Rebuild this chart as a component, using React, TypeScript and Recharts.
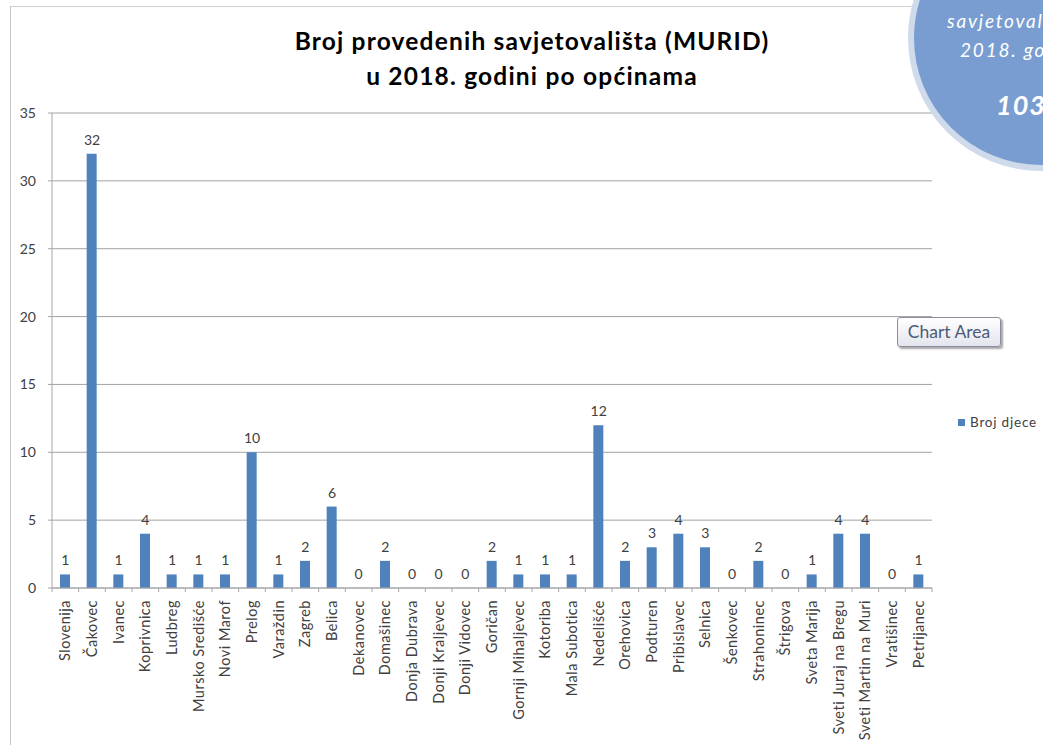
import React from "react";
import { ComposedChart, Bar, Line, XAxis, YAxis, CartesianGrid, LabelList } from "recharts";

const categories = [
  "Slovenija", "Čakovec", "Ivanec", "Koprivnica", "Ludbreg", "Mursko Središće", "Novi Marof",
  "Prelog", "Varaždin", "Zagreb", "Belica", "Dekanovec", "Domašinec", "Donja Dubrava",
  "Donji Kraljevec", "Donji Vidovec", "Goričan", "Gornji Mihaljevec", "Kotoriba", "Mala Subotica",
  "Nedelišće", "Orehovica", "Podturen", "Pribislavec", "Selnica", "Šenkovec", "Strahoninec",
  "Štrigova", "Sveta Marija", "Sveti Juraj na Bregu", "Sveti Martin na Muri", "Vratišinec", "Petrijanec",
];
const brojDjece = [1, 32, 1, 4, 1, 1, 1, 10, 1, 2, 6, 0, 2, 0, 0, 0, 2, 1, 1, 1, 12, 2, 3, 4, 3, 0, 2, 0, 1, 4, 4, 0, 1];
const yTicks = [0, 5, 10, 15, 20, 25, 30, 35];
const titleLines = ["Broj provedenih savjetovališta (MURID)", "u 2018. godini po općinama"];
const seriesName = "Broj djece";
const circleLines = ["savjetovališta u", "2018. godini", "103"];

const data = categories.map((c, i) => ({ name: c, value: brojDjece[i] }));

const W = 1043;
const H = 745;
const M = { top: 113, right: 111, bottom: 0, left: 12 };
const YW = 40;
const PLOT_W = W - M.left - M.right - YW;
const BAND = PLOT_W / categories.length;
const FONT = "Lato, 'Liberation Sans', sans-serif";
const TXT = "#404040";

const XTick = (props: any) => {
  const { x, y, payload, index } = props;
  return (
    <g>
      <line x1={x - BAND / 2} x2={x - BAND / 2} y1={y - 8} y2={y - 4} stroke="#a6a6a6" />
      {index === categories.length - 1 && (
        <line x1={x + BAND / 2} x2={x + BAND / 2} y1={y - 8} y2={y - 4} stroke="#a6a6a6" />
      )}
      <text
        transform={`translate(${x + 5},${y + 4}) rotate(-90)`}
        textAnchor="end"
        fontSize={14.5}
        letterSpacing={0.5}
        fill={TXT}
        fontFamily={FONT}
      >
        {payload.value}
      </text>
    </g>
  );
};

export default function App() {
  const r = 133;
  const cx = 1041;
  const cy = 38;
  return (
    <div
      style={{
        position: "absolute",
        left: 0,
        top: 0,
        width: W,
        height: H,
        overflow: "hidden",
        background: "#fff",
        fontFamily: FONT,
      }}
    >
      <div
        style={{
          position: "absolute",
          left: 10,
          top: 6,
          width: 2000,
          height: 2000,
          borderLeft: "1.5px solid #c4c4c4",
          borderTop: "1.5px solid #d0d0d0",
        }}
      />
      <div
        style={{
          position: "absolute",
          left: 0,
          width: 1064,
          top: 23,
          textAlign: "center",
          fontWeight: 700,
          fontSize: 24.5,
          letterSpacing: 1.2,
          lineHeight: "35px",
          color: "#000",
        }}
      >
        {titleLines.map((t) => (
          <div key={t}>{t}</div>
        ))}
      </div>
      <div style={{ position: "absolute", left: 0, top: 0 }}>
        <ComposedChart width={W} height={H} data={data} margin={M} barSize={10}>
          <CartesianGrid vertical={false} stroke="#a3a3a3" />
          <XAxis
            dataKey="name"
            interval={0}
            height={157}
            axisLine={{ stroke: "#a6a6a6" }}
            tickLine={false}
            tick={<XTick />}
          />
          <YAxis
            width={YW}
            domain={[0, 35]}
            ticks={yTicks}
            interval={0}
            axisLine={{ stroke: "#a6a6a6" }}
            tickLine={{ stroke: "#a6a6a6" }}
            tickSize={4}
            tickMargin={12}
            tick={{ fill: TXT, fontSize: 14, fontFamily: FONT }}
          />
          <Bar dataKey="value" name={seriesName} fill="#4f81bd" isAnimationActive={false} />
          <Line
            dataKey="value"
            stroke="none"
            dot={false}
            activeDot={false}
            legendType="none"
            isAnimationActive={false}
          >
            <LabelList
              dataKey="value"
              position="top"
              offset={9}
              fill={TXT}
              fontSize={14}
              fontFamily={FONT}
            />
          </Line>
        </ComposedChart>
      </div>
      <div style={{ position: "absolute", left: 958, top: 414, display: "flex", alignItems: "center", whiteSpace: "nowrap" }}>
        <div style={{ width: 7, height: 7, background: "#4f81bd", marginRight: 5 }} />
        <span style={{ color: TXT, fontSize: 13.5, letterSpacing: 0.8, lineHeight: "16px" }}>{seriesName}</span>
      </div>
      <div
        style={{
          position: "absolute",
          left: cx - r,
          top: cy - r,
          width: 2 * r,
          height: 2 * r,
          borderRadius: "50%",
          background: "#799dd0",
          border: "6px solid #cfdbeb",
          boxSizing: "border-box",
        }}
      />
      <div style={{ position: "absolute", left: 947, top: 9, color: "#fff", fontStyle: "italic", fontSize: 19, letterSpacing: 1.8, whiteSpace: "nowrap", lineHeight: "24px" }}>
        {circleLines[0]}
      </div>
      <div style={{ position: "absolute", left: 960, top: 38, color: "#fff", fontStyle: "italic", fontSize: 19, letterSpacing: 1.8, whiteSpace: "nowrap", lineHeight: "24px" }}>
        {circleLines[1]}
      </div>
      <div style={{ position: "absolute", left: 996, top: 89, color: "#fff", fontStyle: "italic", fontWeight: 700, fontSize: 27, letterSpacing: 1, whiteSpace: "nowrap", lineHeight: "32px" }}>
        {circleLines[2]}
      </div>
      <div
        style={{
          position: "absolute",
          left: 897,
          top: 317,
          width: 104,
          height: 30,
          boxSizing: "border-box",
          border: "1px solid #8c8c9c",
          borderRadius: 3,
          background: "linear-gradient(#ffffff, #e3e5ee)",
          boxShadow: "2px 2px 2px rgba(0,0,0,0.35)",
          color: "#4d5a78",
          fontSize: 17.5,
          textAlign: "center",
          lineHeight: "28px",
        }}
      >
        Chart Area
      </div>
    </div>
  );
}
